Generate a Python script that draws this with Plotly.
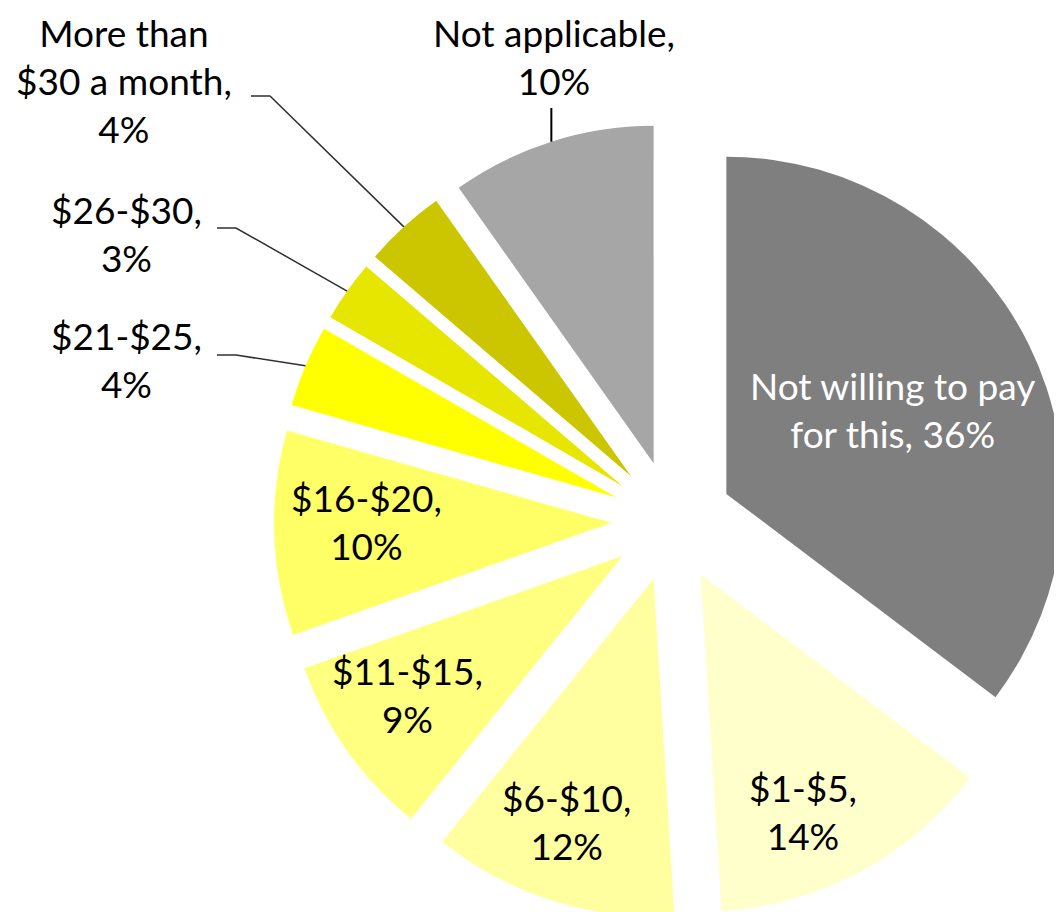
import math
import plotly.graph_objects as go

# ---------------- data ----------------
categories = ["Not willing to pay for this", "$1-$5", "$6-$10", "$11-$15", "$16-$20",
              "$21-$25", "$26-$30", "More than $30 a month", "Not applicable"]
values = [36, 14, 12, 9, 10, 4, 3, 4, 10]
label_formats = ["Not willing to pay<br>for this, {}%", "$1-$5,<br>{}%", "$6-$10,<br>{}%",
                 "$11-$15,<br>{}%", "$16-$20,<br>{}%", "$21-$25,<br>{}%", "$26-$30,<br>{}%",
                 "More than<br>$30 a month,<br>{}%", "Not applicable,<br>{}%"]

# ---------------- styles / layout ----------------
colors = ["#7F7F7F", "#FFFFCC", "#FFFFA0", "#FFFF80", "#FFFF66",
          "#FFFF00", "#E6E600", "#CCC600", "#A6A6A6"]
text_colors = ["white"] + ["black"] * 8
W, H = 1062, 912
CX, CY, HALF = 664, 513, 398       # pie centre and half box size (px)
PULL = 0.18
FONT = "Lato"
FSIZE = 37
TEXT_DY = -9                       # vertical nudge of all labels (px)
OUT_DX = -9                        # horizontal nudge of outside labels (px)

# inside labels: (angle offset from slice middle in deg, radius fraction)
inside_pos = {0: (1.5, 0.72), 1: (4.6, 0.968), 2: (1.2, 0.97), 3: (0.7, 0.954), 4: (0.0, 0.905)}
# outside labels: label centre (px; y=None -> pinned to top edge), leader start (px) or None
outside_pos = {5: ((127, 360), (209, 347)),
               6: ((127, 234), (209, 220)),
               7: ((125, None), (243, 88)),
               8: ((555, None), None)}
ELBOW = 19
TOP_LEADER_Y = 100

R = HALF / (1 + PULL)
dom_x = [(CX - HALF) / W, min(1.0, (CX + HALF) / W)]
dom_y = [max(0.0, 1 - (CY + HALF) / H), 1 - (CY - HALF) / H]


def pt(angle_deg, rad):
    a = math.radians(angle_deg)
    return CX + rad * math.sin(a), CY - rad * math.cos(a)


def paper(x, y):
    return x / W, 1 - y / H


total = sum(values)
mids = []
cum = 0
for v in values:
    mids.append((cum + v / 2) / total * 360)
    cum += v

fig = go.Figure(go.Pie(
    labels=categories, values=values, sort=False, direction="clockwise", rotation=0,
    pull=[PULL] * len(values),
    marker=dict(colors=colors, line=dict(width=0)),
    textinfo="none", hoverinfo="label+percent", showlegend=False,
    domain=dict(x=dom_x, y=dom_y),
))

annotations = []
shapes = []
for i, v in enumerate(values):
    txt = label_formats[i].format(v)
    yanchor = "middle"
    if i in inside_pos:
        da, fr = inside_pos[i]
        x, y = pt(mids[i] + da, fr * R)
        px, py = paper(x, y + TEXT_DY)
    else:
        (x, y), start = outside_pos[i]
        tx, ty = pt(mids[i], (1 + PULL) * R)
        if start is None:
            p0 = paper(tx, TOP_LEADER_Y)
            p1 = paper(tx, ty)
            shapes.append(dict(type="line", xref="paper", yref="paper",
                               x0=p0[0], y0=p0[1], x1=p1[0], y1=p1[1],
                               line=dict(color="black", width=2)))
        else:
            sx, sy = start
            a0 = paper(sx, sy)
            a1 = paper(sx + ELBOW, sy)
            a2 = paper(tx, ty)
            shapes.append(dict(type="path", xref="paper", yref="paper",
                               path=f"M {a0[0]},{a0[1]} L {a1[0]},{a1[1]} L {a2[0]},{a2[1]}",
                               line=dict(color="#303030", width=1.5)))
        x += OUT_DX
        if y is None:
            px, py = paper(x, 0)
            py = 1.0
            yanchor = "top"
        else:
            px, py = paper(x, y + TEXT_DY)
    annotations.append(dict(x=px, y=py, xref="paper", yref="paper", text=txt,
                            showarrow=False, xanchor="center", yanchor=yanchor,
                            align="center",
                            font=dict(family=FONT, size=FSIZE, color=text_colors[i])))

fig.update_layout(
    width=W, height=H, margin=dict(l=0, r=0, t=0, b=0),
    paper_bgcolor="white", plot_bgcolor="white",
    annotations=annotations, shapes=shapes,
)

fig.write_html("out.html")
